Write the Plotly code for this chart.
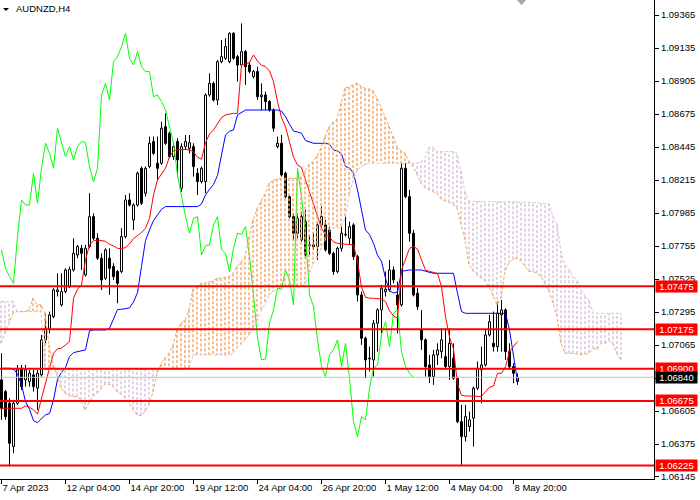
import plotly.graph_objects as go

TITLE = "AUDNZD,H4"
X_TICK_BARS = [0, 16, 32, 48, 64, 80, 96, 112, 128]
X_TICK_LABELS = ["7 Apr 2023", "12 Apr 04:00", "14 Apr 20:00", "19 Apr 12:00", "24 Apr 04:00",
                 "26 Apr 20:00", "1 May 12:00", "4 May 04:00", "8 May 20:00"]
Y_TICKS = [1.09365, 1.09135, 1.08905, 1.08675, 1.08445, 1.08215, 1.07985, 1.07755, 1.07525,
           1.07295, 1.07065, 1.06835, 1.06605, 1.06375, 1.06145]
LEVELS = [1.07475, 1.07175, 1.06900, 1.06675, 1.06225]
CHIKOU_SHIFT = 26

OPEN = [
    1.06822, 1.06740, 1.06659, 1.06357, 1.06659, 1.06903, 1.06822, 1.06810, 1.06857, 1.06764,
    1.06857, 1.07101, 1.07182, 1.07263, 1.07437, 1.07345, 1.07437, 1.07472, 1.07588, 1.07693,
    1.07739, 1.07554, 1.07751, 1.07960, 1.07809, 1.07670, 1.07530, 1.07670, 1.07612, 1.07577,
    1.07577, 1.07821, 1.08076, 1.07937, 1.08041, 1.08297, 1.08123, 1.08309, 1.08483, 1.08332,
    1.08332, 1.08587, 1.08541, 1.08378, 1.08483, 1.08158, 1.08448, 1.08436, 1.08448, 1.08262,
    1.08204, 1.08204, 1.08808, 1.08889, 1.08773, 1.09040, 1.09064, 1.09040, 1.09238, 1.09075,
    1.09017, 1.09110, 1.09017, 1.08936, 1.08971, 1.08796, 1.08808, 1.08762, 1.08703, 1.08448,
    1.08471, 1.08262, 1.08099, 1.07960, 1.07844, 1.07797, 1.07925, 1.07763, 1.07751, 1.07751,
    1.07902, 1.07902, 1.07867, 1.07704, 1.07577, 1.07739, 1.07832, 1.07809, 1.07902, 1.07681,
    1.07414, 1.07112, 1.06973, 1.06961, 1.07217, 1.07310, 1.07437, 1.07449, 1.07588, 1.07414,
    1.07345, 1.08297, 1.08099, 1.07844, 1.07426, 1.07170, 1.07101, 1.06926, 1.06845, 1.06996,
    1.07019, 1.06984, 1.06915, 1.06973, 1.06833, 1.06531, 1.06427, 1.06497, 1.06555, 1.06764,
    1.06892, 1.06926, 1.07135, 1.07077, 1.07054, 1.07275, 1.07310, 1.07019, 1.06915, 1.06810,
]
HIGH = [
    1.07008, 1.06752, 1.06694, 1.06682, 1.06926, 1.06926, 1.06926, 1.06892, 1.06892, 1.06892,
    1.07135, 1.07286, 1.07298, 1.07461, 1.07565, 1.07565, 1.07600, 1.07612, 1.07809, 1.07763,
    1.07763, 1.07763, 1.08123, 1.07983, 1.07844, 1.07704, 1.07739, 1.07739, 1.07635, 1.07588,
    1.07879, 1.08111, 1.08123, 1.08053, 1.08274, 1.08309, 1.08309, 1.08518, 1.08518, 1.08518,
    1.08622, 1.08680, 1.08552, 1.08471, 1.08506, 1.08471, 1.08529, 1.08529, 1.08471, 1.08297,
    1.08309, 1.08820, 1.08959, 1.08901, 1.09052, 1.09191, 1.09203, 1.09245, 1.09245, 1.09087,
    1.09307, 1.09122, 1.09040, 1.08982, 1.09005, 1.08889, 1.08831, 1.08773, 1.08715, 1.08518,
    1.08529, 1.08274, 1.08111, 1.07983, 1.07983, 1.07995, 1.08007, 1.07832, 1.07844, 1.07914,
    1.08030, 1.07937, 1.07890, 1.07716, 1.07751, 1.07890, 1.07960, 1.07925, 1.07914, 1.07693,
    1.07437, 1.07124, 1.07054, 1.07240, 1.07321, 1.07484, 1.07577, 1.07658, 1.07612, 1.07507,
    1.08332, 1.08332, 1.08146, 1.07867, 1.07461, 1.07310, 1.07112, 1.06996, 1.07031, 1.07077,
    1.07182, 1.07182, 1.07182, 1.07077, 1.06845, 1.06648, 1.06648, 1.06601, 1.06775, 1.06950,
    1.07054, 1.07170, 1.07275, 1.07298, 1.07368, 1.07379, 1.07321, 1.07077, 1.06938, 1.06868,
]
LOW = [
    1.06543, 1.06543, 1.06220, 1.06311, 1.06648, 1.06752, 1.06775, 1.06775, 1.06740, 1.06613,
    1.06845, 1.07077, 1.07147, 1.07252, 1.07403, 1.07333, 1.07426, 1.07461, 1.07577, 1.07670,
    1.07588, 1.07542, 1.07739, 1.07797, 1.07658, 1.07449, 1.07519, 1.07414, 1.07519, 1.07356,
    1.07565, 1.07809, 1.08030, 1.07867, 1.08030, 1.08041, 1.08099, 1.08297, 1.08390, 1.08216,
    1.08320, 1.08460, 1.08367, 1.08355, 1.08239, 1.08134, 1.08425, 1.08401, 1.08239, 1.08111,
    1.08192, 1.08123, 1.08796, 1.08762, 1.08738, 1.09029, 1.09052, 1.09029, 1.09052, 1.08901,
    1.09005, 1.08878, 1.08959, 1.08924, 1.08773, 1.08703, 1.08703, 1.08692, 1.08552, 1.08436,
    1.08239, 1.08088, 1.07948, 1.07797, 1.07809, 1.07786, 1.07681, 1.07693, 1.07728, 1.07658,
    1.07890, 1.07716, 1.07693, 1.07554, 1.07565, 1.07716, 1.07821, 1.07763, 1.07658, 1.07368,
    1.07066, 1.06833, 1.06880, 1.06845, 1.07019, 1.07147, 1.07403, 1.07437, 1.07495, 1.07147,
    1.07333, 1.08088, 1.07786, 1.07403, 1.07310, 1.07031, 1.06845, 1.06799, 1.06787, 1.06926,
    1.06973, 1.06892, 1.06822, 1.06822, 1.06520, 1.06230, 1.06392, 1.06462, 1.06357, 1.06752,
    1.06659, 1.06915, 1.07124, 1.07019, 1.07019, 1.07019, 1.06961, 1.06892, 1.06799, 1.06787,
]
CLOSE = [
    1.06624, 1.06566, 1.06380, 1.06659, 1.06892, 1.06775, 1.06892, 1.06868, 1.06775, 1.06868,
    1.07101, 1.07182, 1.07275, 1.07449, 1.07449, 1.07437, 1.07588, 1.07593, 1.07704, 1.07751,
    1.07704, 1.07739, 1.07960, 1.07809, 1.07670, 1.07519, 1.07728, 1.07600, 1.07542, 1.07495,
    1.07821, 1.08076, 1.08041, 1.08041, 1.08262, 1.08053, 1.08297, 1.08471, 1.08401, 1.08297,
    1.08576, 1.08471, 1.08378, 1.08448, 1.08355, 1.08448, 1.08483, 1.08476, 1.08309, 1.08204,
    1.08297, 1.08808, 1.08889, 1.08773, 1.09040, 1.09075, 1.09145, 1.09238, 1.09064, 1.09017,
    1.09110, 1.09005, 1.08971, 1.08971, 1.08796, 1.08808, 1.08762, 1.08703, 1.08576, 1.08471,
    1.08250, 1.08099, 1.07960, 1.07844, 1.07948, 1.07960, 1.07693, 1.07758, 1.07763, 1.07902,
    1.07960, 1.07728, 1.07704, 1.07577, 1.07739, 1.07844, 1.07837, 1.07890, 1.07681, 1.07414,
    1.07112, 1.06961, 1.06968, 1.07217, 1.07310, 1.07461, 1.07454, 1.07588, 1.07519, 1.07345,
    1.08297, 1.08099, 1.07844, 1.07414, 1.07333, 1.07101, 1.06915, 1.06845, 1.06996, 1.07031,
    1.07101, 1.06915, 1.07077, 1.06833, 1.06531, 1.06427, 1.06566, 1.06543, 1.06764, 1.06903,
    1.06926, 1.07135, 1.07228, 1.07054, 1.07286, 1.07310, 1.07019, 1.06915, 1.06868, 1.06840,
]
TENKAN = [
    1.06624, 1.06624, 1.06624, 1.06624, 1.06624, 1.06624, 1.06641, 1.06631, 1.06613, 1.06583,
    1.06694, 1.06799, 1.06903, 1.07008, 1.07038, 1.07043, 1.07066, 1.07089, 1.07391, 1.07454,
    1.07484, 1.07658, 1.07763, 1.07793, 1.07797, 1.07793, 1.07788, 1.07767, 1.07756, 1.07739,
    1.07737, 1.07744, 1.07770, 1.07807, 1.07825, 1.07849, 1.07879, 1.07948, 1.08111, 1.08216,
    1.08257, 1.08297, 1.08378, 1.08418, 1.08425, 1.08427, 1.08429, 1.08425, 1.08411, 1.08374,
    1.08360, 1.08476, 1.08536, 1.08564, 1.08604, 1.08650, 1.08669, 1.08676, 1.08680, 1.08680,
    1.09019, 1.09024, 1.09033, 1.09087, 1.09045, 1.09015, 1.09005, 1.08975, 1.08901, 1.08762,
    1.08650, 1.08587, 1.08476, 1.08374, 1.08320, 1.08302, 1.08216, 1.08132, 1.08053, 1.07953,
    1.07879, 1.07832, 1.07816, 1.07784, 1.07774, 1.07770, 1.07767, 1.07767, 1.07763, 1.07646,
    1.07468, 1.07398, 1.07391, 1.07391, 1.07391, 1.07386, 1.07368, 1.07303, 1.07268, 1.07252,
    1.07588, 1.07658, 1.07739, 1.07751, 1.07735, 1.07658, 1.07586, 1.07579, 1.07572, 1.07563,
    1.07472, 1.07263, 1.07121, 1.07038, 1.06792, 1.06715, 1.06710, 1.06708, 1.06706, 1.06706,
    1.06706, 1.06740, 1.06771, 1.06780, 1.06868, 1.06868, 1.06915, 1.07019, 1.07054, 1.07089,
]
KIJUN = [
    1.06903, 1.06903, 1.06903, 1.06896, 1.06864, 1.06787, 1.06671, 1.06617, 1.06538, 1.06524,
    1.06548, 1.06578, 1.06587, 1.06682, 1.06826, 1.06875, 1.06908, 1.06984, 1.07012, 1.07017,
    1.07024, 1.07031, 1.07163, 1.07170, 1.07170, 1.07170, 1.07170, 1.07182, 1.07252, 1.07312,
    1.07314, 1.07319, 1.07324, 1.07365, 1.07430, 1.07612, 1.07793, 1.07867, 1.07932, 1.07972,
    1.08011, 1.08030, 1.08030, 1.08030, 1.08030, 1.08030, 1.08030, 1.08030, 1.08030, 1.08030,
    1.08048, 1.08111, 1.08151, 1.08183, 1.08248, 1.08397, 1.08529, 1.08555, 1.08564, 1.08669,
    1.08685, 1.08703, 1.08703, 1.08703, 1.08703, 1.08703, 1.08703, 1.08703, 1.08703, 1.08703,
    1.08696, 1.08657, 1.08604, 1.08557, 1.08550, 1.08541, 1.08490, 1.08480, 1.08471, 1.08471,
    1.08471, 1.08471, 1.08464, 1.08425, 1.08418, 1.08397, 1.08309, 1.08299, 1.08262, 1.08146,
    1.08007, 1.07867, 1.07835, 1.07774, 1.07691, 1.07649, 1.07530, 1.07442, 1.07428, 1.07435,
    1.07579, 1.07586, 1.07588, 1.07588, 1.07588, 1.07588, 1.07579, 1.07572, 1.07565, 1.07565,
    1.07565, 1.07565, 1.07565, 1.07565, 1.07426, 1.07298, 1.07286, 1.07286, 1.07286, 1.07286,
    1.07286, 1.07286, 1.07286, 1.07286, 1.07286, 1.07286, 1.07286, 1.07170, 1.06996, 1.06810,
]
SPAN_A = [
    1.07077, 1.07147, 1.07228, 1.07286, 1.07298, 1.07298, 1.07298, 1.07310, 1.07391, 1.07345,
    1.07345, 1.07286, 1.07066, 1.06926, 1.06857, 1.06764, 1.06729, 1.06713, 1.06706, 1.06706,
    1.06682, 1.06613, 1.06664, 1.06710, 1.06729, 1.06764, 1.06792, 1.06792, 1.06775, 1.06740,
    1.06722, 1.06694, 1.06664, 1.06617, 1.06578, 1.06573, 1.06601, 1.06648, 1.06740, 1.06868,
    1.06933, 1.06977, 1.07008, 1.07061, 1.07170, 1.07217, 1.07240, 1.07310, 1.07454, 1.07472,
    1.07493, 1.07495, 1.07502, 1.07512, 1.07530, 1.07530, 1.07537, 1.07544, 1.07563, 1.07612,
    1.07642, 1.07681, 1.07816, 1.07937, 1.08014, 1.08065, 1.08118, 1.08192, 1.08211, 1.08223,
    1.08227, 1.08227, 1.08227, 1.08227, 1.08227, 1.08237, 1.08274, 1.08325, 1.08343, 1.08385,
    1.08439, 1.08518, 1.08583, 1.08618, 1.08638, 1.08750, 1.08857, 1.08864, 1.08878, 1.08892,
    1.08868, 1.08854, 1.08850, 1.08838, 1.08785, 1.08715, 1.08657, 1.08592, 1.08522, 1.08446,
    1.08420, 1.08401, 1.08346, 1.08309, 1.08257, 1.08192, 1.08162, 1.08148, 1.08134, 1.08120,
    1.08083, 1.08069, 1.08060, 1.08046, 1.08020, 1.07909, 1.07797, 1.07626, 1.07581, 1.07556,
    1.07535, 1.07512, 1.07472, 1.07403, 1.07345, 1.07391, 1.07584, 1.07635, 1.07663, 1.07670,
    1.07653, 1.07612, 1.07577, 1.07577, 1.07567, 1.07542, 1.07495, 1.07440, 1.07356, 1.07263,
    1.07077, 1.07008, 1.07008, 1.07008, 1.07003, 1.06998, 1.07001, 1.07010, 1.07040, 1.07035,
    1.07077, 1.07077, 1.07096, 1.07070, 1.07003, 1.06961,
]
SPAN_B = [
    1.07368, 1.07368, 1.07368, 1.07368, 1.07298, 1.07298, 1.07298, 1.07298, 1.07298, 1.07298,
    1.07298, 1.06895, 1.06895, 1.06895, 1.06895, 1.06895, 1.06895, 1.06895, 1.06895, 1.06895,
    1.06895, 1.06895, 1.06895, 1.06895, 1.06895, 1.06895, 1.06895, 1.06895, 1.06895, 1.06895,
    1.06895, 1.06895, 1.06895, 1.06895, 1.06895, 1.06895, 1.06895, 1.06895, 1.06895, 1.06895,
    1.06895, 1.06895, 1.06895, 1.06895, 1.06895, 1.06895, 1.06895, 1.06895, 1.06996, 1.06996,
    1.06996, 1.06996, 1.06996, 1.06996, 1.06996, 1.06996, 1.06996, 1.06996, 1.07003, 1.07047,
    1.07070, 1.07098, 1.07133, 1.07184, 1.07233, 1.07298, 1.07356, 1.07412, 1.07437, 1.07458,
    1.07472, 1.07472, 1.07472, 1.07472, 1.07472, 1.07472, 1.07491, 1.07551, 1.07628, 1.07670,
    1.07735, 1.07793, 1.07851, 1.07879, 1.07879, 1.07886, 1.07953, 1.08099, 1.08216, 1.08281,
    1.08309, 1.08322, 1.08332, 1.08332, 1.08332, 1.08332, 1.08332, 1.08332, 1.08332, 1.08332,
    1.08332, 1.08332, 1.08332, 1.08332, 1.08332, 1.08341, 1.08369, 1.08441, 1.08446, 1.08413,
    1.08413, 1.08413, 1.08413, 1.08413, 1.08401, 1.08278, 1.08132, 1.08069, 1.08065, 1.08065,
    1.08065, 1.08065, 1.08065, 1.08065, 1.08065, 1.08065, 1.08065, 1.08065, 1.08065, 1.08065,
    1.08065, 1.08062, 1.08060, 1.08058, 1.08055, 1.08053, 1.08051, 1.08048, 1.07960, 1.07909,
    1.07716, 1.07628, 1.07600, 1.07540, 1.07523, 1.07456, 1.07407, 1.07377, 1.07286, 1.07286,
    1.07286, 1.07286, 1.07286, 1.07286, 1.07286, 1.07286,
]

FONT = "Liberation Sans, Arial, sans-serif"
ORANGE = "rgb(244,164,96)"
THISTLE = "rgb(216,191,216)"
HATCH = "3px,2px"
bars = list(range(len(CLOSE)))
cloud_bars = list(range(len(SPAN_A)))

fig = go.Figure()

# --- Kumo: one dotted vertical stroke per bar between Span A and Span B (own overlay axis) ---
ox, oy, tx, ty = [], [], [], []
for i, a, b in zip(cloud_bars, SPAN_A, SPAN_B):
    if a >= b:
        ox += [i, i, None]
        oy += [a, b, None]
    else:
        tx += [i, i, None]
        ty += [a, b, None]
fig.add_trace(go.Scatter(x=tx, y=ty, xaxis="x2", mode="lines", hoverinfo="skip",
                         line=dict(color=THISTLE, width=1.4, dash=HATCH)))
fig.add_trace(go.Scatter(x=ox, y=oy, xaxis="x2", mode="lines", hoverinfo="skip",
                         line=dict(color=ORANGE, width=1.4, dash=HATCH)))
fig.add_trace(go.Scatter(x=cloud_bars, y=SPAN_B, xaxis="x2", mode="lines", hoverinfo="skip",
                         line=dict(color=THISTLE, width=1, dash=HATCH)))
fig.add_trace(go.Scatter(x=cloud_bars, y=SPAN_A, xaxis="x2", mode="lines", hoverinfo="skip",
                         line=dict(color=ORANGE, width=1, dash=HATCH)))

# --- candles: bodies as bars, wicks as segments outside the body ---
up_x, up_base, up_h, dn_x, dn_base, dn_h = [], [], [], [], [], []
wx, wy = [], []
for i, o, h, l, c in zip(bars, OPEN, HIGH, LOW, CLOSE):
    lo_b, hi_b = min(o, c), max(o, c)
    if c >= o:
        up_x.append(i); up_base.append(lo_b); up_h.append(hi_b - lo_b)
    else:
        dn_x.append(i); dn_base.append(lo_b); dn_h.append(hi_b - lo_b)
    wx += [i, i, None, i, i, None]
    wy += [l, lo_b, None, hi_b, h, None]

fig.add_trace(go.Bar(x=dn_x, y=dn_h, base=dn_base, width=0.5, hoverinfo="skip",
                     marker=dict(color="black", line=dict(color="black", width=1))))
fig.add_trace(go.Bar(x=up_x, y=up_h, base=up_base, width=0.5, hoverinfo="skip",
                     marker=dict(color="white", line=dict(color="black", width=1))))
fig.add_trace(go.Scatter(x=wx, y=wy, mode="lines", hoverinfo="skip",
                         line=dict(color="black", width=1)))

# --- Chikou (close shifted 26 bars back), Kijun, Tenkan ---
fig.add_trace(go.Scatter(x=bars[:len(CLOSE) - CHIKOU_SHIFT], y=CLOSE[CHIKOU_SHIFT:], mode="lines",
                         hoverinfo="skip", line=dict(color="#00FF00", width=1)))
fig.add_trace(go.Scatter(x=bars, y=KIJUN, mode="lines", hoverinfo="skip",
                         line=dict(color="#0000FF", width=1)))
fig.add_trace(go.Scatter(x=bars, y=TENKAN, mode="lines", hoverinfo="skip",
                         line=dict(color="#FF0000", width=1)))

shapes = []
annotations = []
last = CLOSE[-1]
shapes.append(dict(type="line", xref="paper", x0=0, x1=1, yref="y", y0=last, y1=last,
                   line=dict(color="#C0C0C0", width=1)))
for lv in LEVELS:
    shapes.append(dict(type="line", xref="paper", x0=0, x1=1, yref="y", y0=lv, y1=lv,
                       line=dict(color="#FF0000", width=2)))
    annotations.append(dict(x=1, xref="paper", y=lv, yref="y", xanchor="left", yanchor="middle",
                            xshift=1, text=f"{lv:.5f}", showarrow=False, bgcolor="#FF0000",
                            font=dict(color="white", size=9.5, family=FONT),
                            width=40, height=10, borderpad=0.5, align="center"))
annotations.append(dict(x=1, xref="paper", y=last, yref="y", xanchor="left", yanchor="middle",
                        xshift=1, text=f"{last:.5f}", showarrow=False, bgcolor="#000000",
                        font=dict(color="white", size=9.5, family=FONT),
                        width=40, height=10, borderpad=0.5, align="center"))
annotations.append(dict(x=0, xref="paper", y=1, yref="paper", xanchor="left", yanchor="top",
                        xshift=14, yshift=-1, text=TITLE, showarrow=False,
                        font=dict(color="#000000", size=9.5, family=FONT)))
shapes.append(dict(type="path", xref="paper", yref="paper",
                   path="M 0.0046,0.9833 L 0.0138,0.9833 L 0.0092,0.9770 Z",
                   fillcolor="black", line=dict(color="black", width=0)))
shapes.append(dict(type="path", xref="paper", yref="paper",
                   path="M 0.7905,1 L 0.8043,1 L 0.7974,0.989 Z",
                   fillcolor="#A8A8A8", line=dict(color="#A8A8A8", width=0)))

fig.update_layout(
    width=700, height=500, margin=dict(l=0, r=46, t=0, b=21, autoexpand=False),
    paper_bgcolor="white", plot_bgcolor="white", showlegend=False, barmode="overlay",
    shapes=shapes, annotations=annotations,
    font=dict(family=FONT, size=9.5, color="black"),
    xaxis=dict(range=[-0.375, 163.125], tickvals=X_TICK_BARS, ticktext=X_TICK_LABELS,
               ticks="outside", ticklen=4, tickcolor="black", showline=True, linecolor="black",
               linewidth=1, showgrid=False, zeroline=False, ticklabelposition="outside right",
               fixedrange=True, automargin=False,
               tickfont=dict(size=9.5, family=FONT, color="black")),
    xaxis2=dict(range=[-0.25, 163.25], overlaying="x", visible=False, fixedrange=True),
    yaxis=dict(range=[1.06131, 1.09470], side="right", tickvals=Y_TICKS,
               ticktext=[f"{v:.5f}" for v in Y_TICKS], ticks="outside", ticklen=4,
               tickcolor="black", showline=True, linecolor="black", linewidth=1,
               showgrid=False, zeroline=False, fixedrange=True, automargin=False,
               tickfont=dict(size=9.5, family=FONT, color="black")),
)

fig.write_html(
    "out.html",
    config={"displayModeBar": False},
    post_script="document.body.style.margin='0';document.body.style.overflow='hidden';",
)
